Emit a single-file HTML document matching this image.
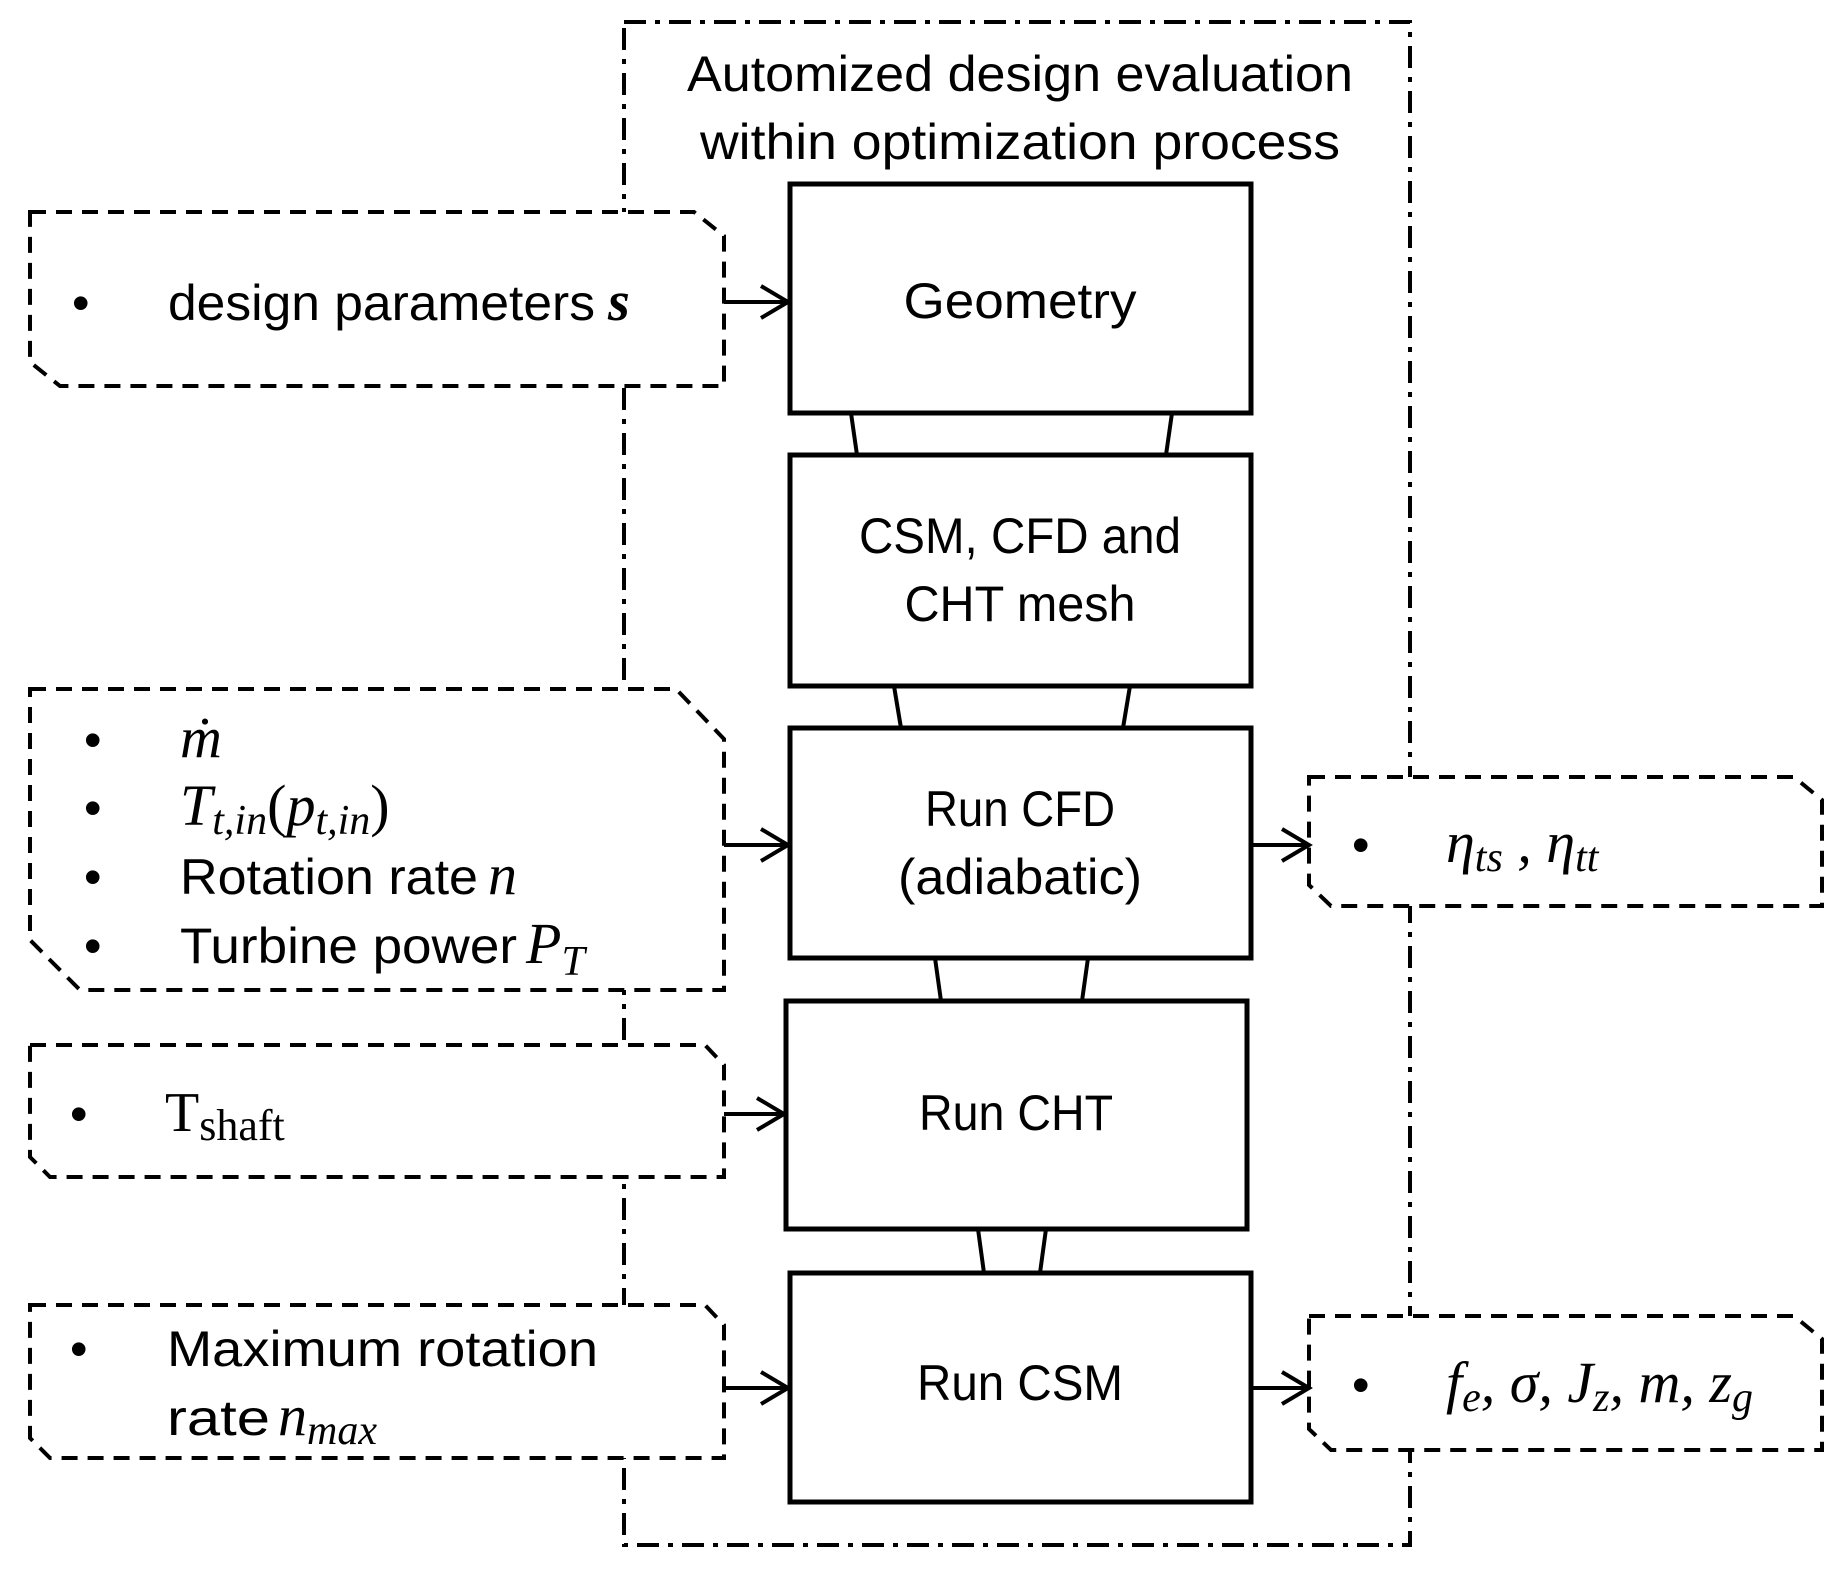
<!DOCTYPE html>
<html><head><meta charset="utf-8"><style>
html,body{margin:0;padding:0;background:#fff;}
svg{display:block;}
text{font-family:"Liberation Sans",sans-serif;font-size:50px;fill:#000;}
.m{font-family:"Liberation Serif",serif;font-style:italic;font-size:58px;}
.r{font-family:"Liberation Serif",serif;font-size:56px;}
</style></head><body>
<svg width="1846" height="1570" viewBox="0 0 1846 1570" xmlns="http://www.w3.org/2000/svg">
<g fill="none" stroke="#000" stroke-width="4" stroke-dasharray="22 9 5 9">
<rect x="624" y="22" width="786" height="1523"/>
</g>
<g fill="none" stroke="#000" stroke-width="5">
<rect x="790" y="184" width="461" height="229" fill="#fff"/>
<rect x="790" y="455" width="461" height="231" fill="#fff"/>
<rect x="790" y="728" width="461" height="230" fill="#fff"/>
<rect x="786" y="1001" width="461" height="228" fill="#fff"/>
<rect x="790" y="1273" width="461" height="229" fill="#fff"/>
<g stroke-width="4">
<line x1="851" y1="413" x2="857" y2="455"/><line x1="1172" y1="413" x2="1166" y2="455"/>
<line x1="894" y1="686" x2="901" y2="728"/><line x1="1130" y1="686" x2="1123" y2="728"/>
<line x1="935" y1="958" x2="941" y2="1001"/><line x1="1088" y1="958" x2="1082" y2="1001"/>
<line x1="978" y1="1229" x2="984" y2="1273"/><line x1="1046" y1="1229" x2="1040" y2="1273"/>
</g>
</g>
<g fill="#fff" stroke="#000" stroke-width="4" stroke-dasharray="16 10">
<path d="M30 212 H694 L724 236 V386 H60 L30 362 Z"/>
<path d="M30 689 H676 L724 739 V990 H80 L30 940 Z"/>
<path d="M30 1045 H705 L724 1065 V1177 H50 L30 1157 Z"/>
<path d="M30 1305 H705 L724 1325 V1458 H50 L30 1438 Z"/>
<path d="M1309 777 H1794 L1822 800 V906 H1331 L1309 885 Z"/>
<path d="M1309 1316 H1794 L1822 1339 V1450 H1331 L1309 1429 Z"/>
</g>
<g fill="none" stroke="#000" stroke-width="4">
<line x1="724" y1="302" x2="788" y2="302"/><polyline points="761,286 788,302 761,318"/>
<line x1="724" y1="845" x2="788" y2="845"/><polyline points="761,829 788,845 761,861"/>
<line x1="724" y1="1114" x2="784" y2="1114"/><polyline points="757,1098 784,1114 757,1130"/>
<line x1="724" y1="1388" x2="788" y2="1388"/><polyline points="761,1372 788,1388 761,1404"/>
<line x1="1253" y1="845" x2="1309" y2="845"/><polyline points="1282,829 1309,845 1282,861"/>
<line x1="1253" y1="1388" x2="1309" y2="1388"/><polyline points="1282,1372 1309,1388 1282,1404"/>
</g>
<g text-anchor="middle">
<text x="1020" y="91" textLength="666" lengthAdjust="spacingAndGlyphs">Automized design evaluation</text>
<text x="1020" y="159" textLength="640" lengthAdjust="spacingAndGlyphs">within optimization process</text>
<text x="1020" y="318" textLength="233" lengthAdjust="spacingAndGlyphs">Geometry</text>
<text x="1020" y="553" textLength="322" lengthAdjust="spacingAndGlyphs">CSM, CFD and</text>
<text x="1020" y="621" textLength="231" lengthAdjust="spacingAndGlyphs">CHT mesh</text>
<text x="1020" y="826" textLength="190" lengthAdjust="spacingAndGlyphs">Run CFD</text>
<text x="1020" y="894" textLength="244" lengthAdjust="spacingAndGlyphs">(adiabatic)</text>
<text x="1016" y="1130" textLength="194" lengthAdjust="spacingAndGlyphs">Run CHT</text>
<text x="1020" y="1400" textLength="206" lengthAdjust="spacingAndGlyphs">Run CSM</text>
</g>
<g>
<text x="72" y="320">•</text>
<text x="168" y="320" textLength="427" lengthAdjust="spacingAndGlyphs">design parameters</text>
<text class="r" x="608" y="320" font-weight="bold" font-style="italic" font-size="58">s</text>

<text x="84" y="757">•</text>
<text class="m" x="180" y="757">ṁ</text>
<text x="84" y="825">•</text>
<text class="m" x="180" y="825">T<tspan font-size="42" dy="9">t,in</tspan><tspan font-style="normal" dy="-9">(</tspan>p<tspan font-size="42" dy="9">t,in</tspan><tspan font-style="normal" dy="-9">)</tspan></text>
<text x="84" y="894">•</text>
<text x="180" y="894" textLength="298" lengthAdjust="spacingAndGlyphs">Rotation rate</text>
<text class="m" x="488" y="894">n</text>
<text x="84" y="963">•</text>
<text x="180" y="963" textLength="337" lengthAdjust="spacingAndGlyphs">Turbine power</text>
<text class="m" x="526" y="963">P<tspan font-size="42" dy="12">T</tspan></text>

<text x="70" y="1131">•</text>
<text class="r" x="165" y="1131">T<tspan font-size="44" dy="9">shaft</tspan></text>

<text x="70" y="1366">•</text>
<text x="167" y="1366" textLength="431" lengthAdjust="spacingAndGlyphs">Maximum rotation</text>
<text x="167" y="1435" textLength="103" lengthAdjust="spacingAndGlyphs">rate</text>
<text class="m" x="278" y="1435">n<tspan font-size="42" dy="9">max</tspan></text>

<text x="1352" y="862">•</text>
<text class="m" x="1446" y="862">η<tspan font-size="42" dy="9">ts</tspan><tspan dy="-9"> , η</tspan><tspan font-size="42" dy="9">tt</tspan></text>
<text x="1352" y="1402">•</text>
<text class="m" x="1446" y="1402">f<tspan font-size="42" dy="9">e</tspan><tspan dy="-9">, σ, J</tspan><tspan font-size="42" dy="9">z</tspan><tspan dy="-9">, m, z</tspan><tspan font-size="42" dy="9">g</tspan></text>
</g>
</svg>
</body></html>
